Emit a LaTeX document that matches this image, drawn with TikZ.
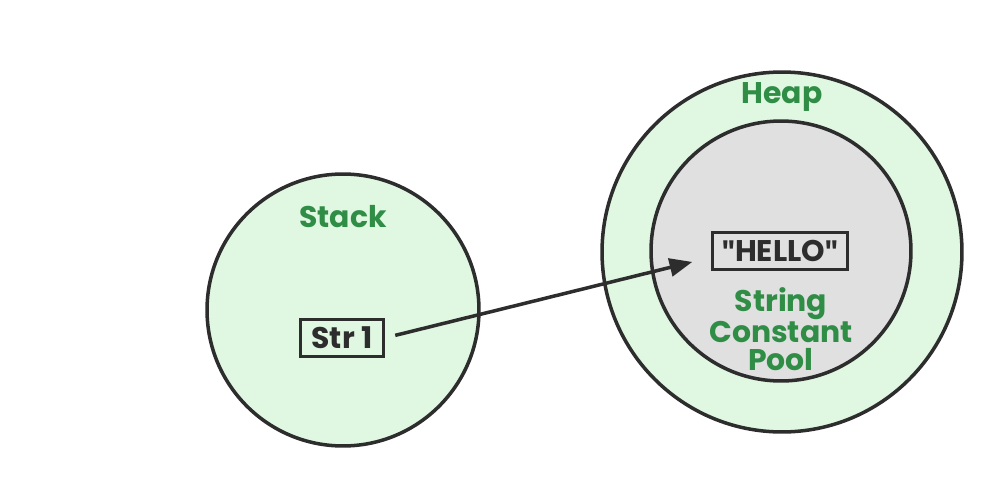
\documentclass[tikz,border=0pt]{standalone}
\usepackage{fontspec}
\setmainfont{Poppins}
\newfontfamily\quotefont{Fira Sans}
\usetikzlibrary{arrows,positioning}
\definecolor{gfgreen}{RGB}{47,141,70}
\definecolor{mint}{RGB}{224,247,226}
\definecolor{poolgray}{RGB}{224,224,224}
\definecolor{ink}{RGB}{45,45,45}
\newcommand{\qmark}{{\quotefont\bfseries\symbol{34}}}
\tikzstyle{region} = [circle, draw=ink, line width=2pt, inner sep=0pt]
\tikzstyle{greenregion} = [region, fill=mint]
\tikzstyle{grayregion} = [region, fill=poolgray]
\tikzstyle{title} = [text=gfgreen, inner sep=0pt, align=center,
  font=\fontsize{17}{15.6}\selectfont\bfseries]
\tikzstyle{value} = [draw=ink, line width=1.2pt, text=ink, inner sep=0pt,
  font=\fontsize{17}{17}\selectfont\bfseries]

\begin{document}
\begin{tikzpicture}[x=0.02cm, y=-0.02cm, >=triangle 45]
    \useasboundingbox (0,0) rectangle (1000,500);

    % stack side
    \node[greenregion, minimum size=5.44cm] (stack) at (343,310) {};
    \node[title] (stacklbl) at (343,217) {Stack};
    \node[value, minimum width=1.66cm, minimum height=0.74cm] (str) at (342,338) {Str 1};

    % heap side
    \node[greenregion, minimum size=7.2cm] (heap) at (782,252) {};
    \node[title] (heaplbl) at (782,97) {Heap};
    \node[grayregion, minimum size=5.2cm] (pool) at (781,251) {};
    \node[value, minimum width=2.7cm, minimum height=0.74cm] (hello) at (780,251)
      {\qmark HELLO\qmark};
    \node[title] (poollbl) at (781,329) {String\\Constant\\Pool};

    \coordinate (tip) at (692,262);
    \draw[->, line width=2pt, draw=ink, shorten <=11*0.02cm] (str.east) -- (tip);

\end{tikzpicture}
\end{document}
